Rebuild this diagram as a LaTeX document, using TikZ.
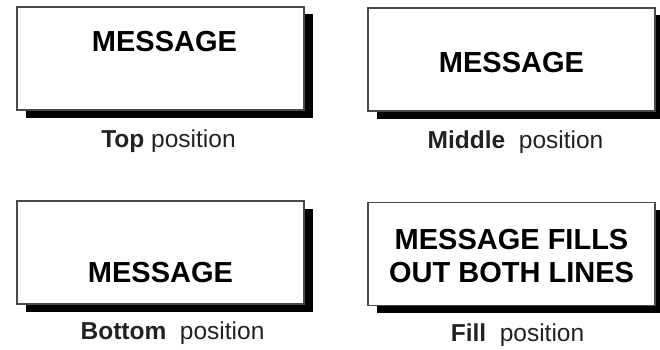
\documentclass[tikz,border=0pt]{standalone}
\usepackage{fontspec}
\setmainfont{Liberation Sans}
\usetikzlibrary{positioning}
\definecolor{ink}{HTML}{222222}
\definecolor{rim}{HTML}{4A4A4A}

\begin{document}
\begin{tikzpicture}[x=1pt,y=-1pt,
  msgbox/.style={draw=rim,line width=1.1pt,fill=white,minimum width=287pt,minimum height=103pt,inner sep=0pt,
    preaction={fill=black,transform canvas={shift={(8.5pt,-7.5pt)}}}},
  msg/.style={font=\bfseries\fontsize{29}{33}\selectfont,text=black,align=center,inner sep=0pt},
  poslabel/.style={font=\fontsize{24.5}{27}\selectfont,text=ink,inner sep=0pt}]
\useasboundingbox (0,0) rectangle (660,350);
% the four boxes
\node[msgbox] (topbox) at (160.5,58.5) {};
\node[msgbox] (midbox) at (511.5,59.5) {};
\node[msgbox] (botbox) at (160.5,252.5) {};
\node[msgbox] (fillbox) at (511.5,254) {};
% messages
\node[msg,below=25pt of topbox.north,xshift=4pt] (topmsg) {MESSAGE};
\node[msg,yshift=-3pt] (midmsg) at (midbox) {MESSAGE};
\node[msg,above=22pt of botbox.south] (botmsg) {MESSAGE};
\node[msg,yshift=-2pt] (fillmsg) at (fillbox) {MESSAGE FILLS\\OUT BOTH LINES};
% captions
\node[poslabel,below=19pt of topbox.south,xshift=8pt] (topcap) {\textbf{Top} position};
\node[poslabel,below=19pt of midbox.south,xshift=4pt] (midcap) {\textbf{Middle}\ \ position};
\node[poslabel,below=17pt of botbox.south,xshift=12pt] (botcap) {\textbf{Bottom}\ \ position};
\node[poslabel,below=17pt of fillbox.south,xshift=6pt] (fillcap) {\textbf{Fill}\ \ position};
\end{tikzpicture}
\end{document}
